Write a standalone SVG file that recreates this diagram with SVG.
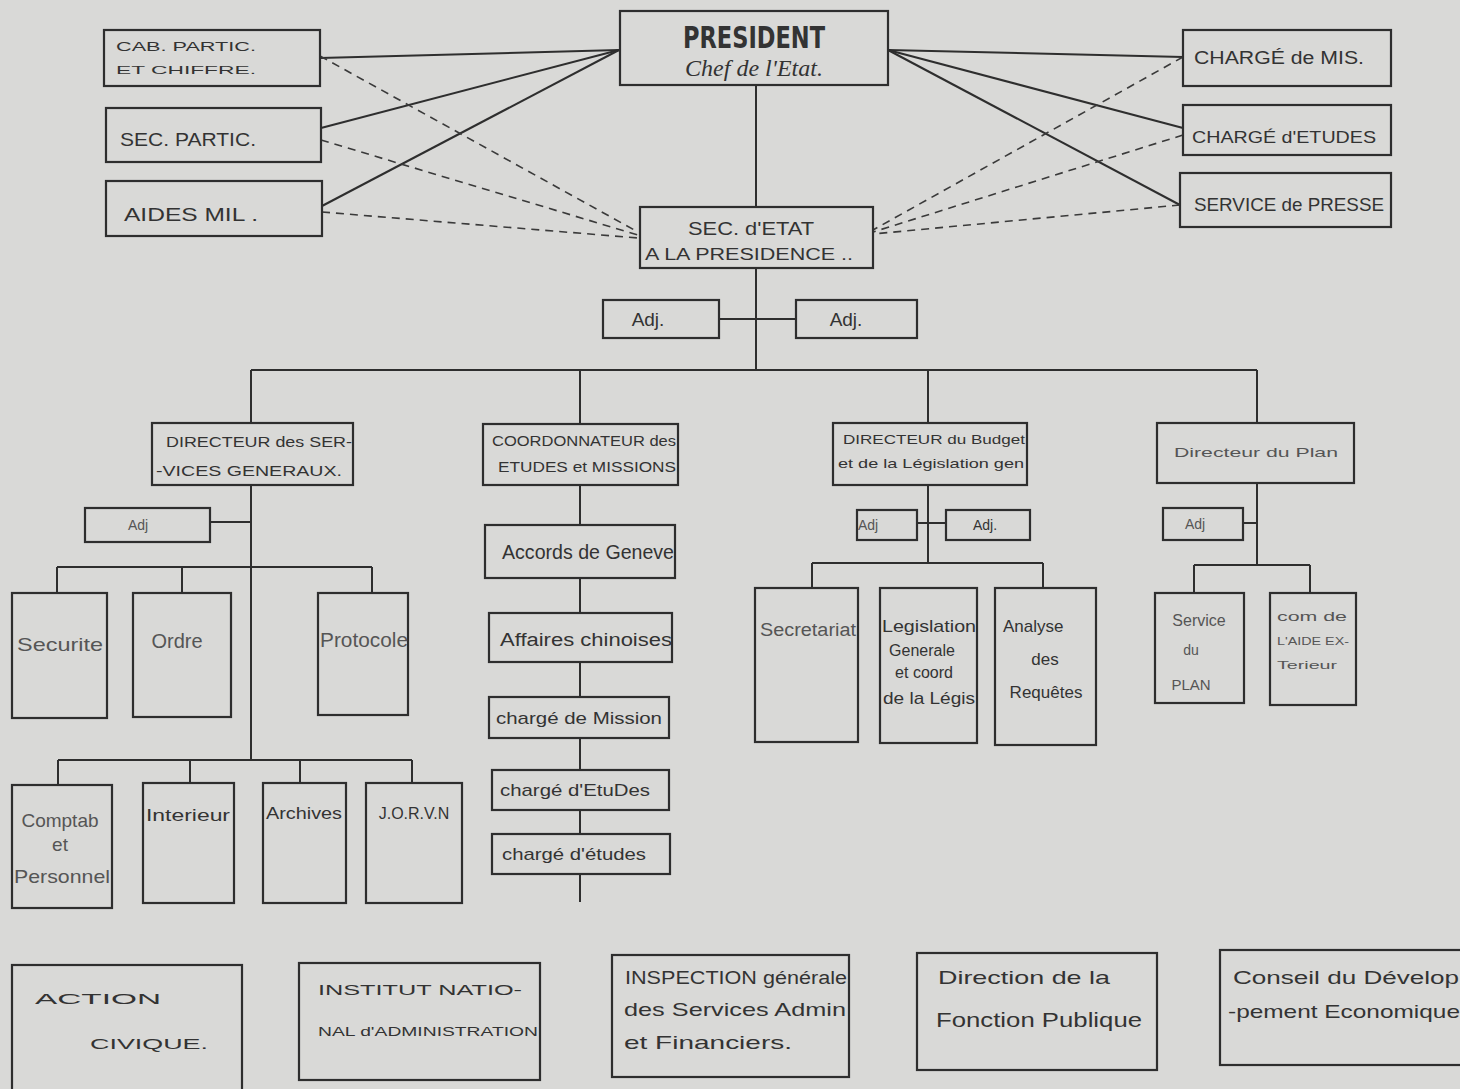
<svg xmlns="http://www.w3.org/2000/svg" width="1460" height="1089" viewBox="0 0 1460 1089">
<style>
.bx{fill:none;stroke:#2e2e2e;stroke-width:2.2}
.ln{fill:none;stroke:#2e2e2e;stroke-width:2}
.ds{fill:none;stroke:#3a3a3a;stroke-width:1.6;stroke-dasharray:8 6}
text{font-family:"Liberation Sans",Arial,sans-serif;fill:#333}
.c{text-anchor:middle}
text.h{font-family:"DejaVu Sans Condensed","DejaVu Sans",sans-serif}
text.sf{font-family:"Liberation Serif","Times New Roman",serif}
.i{font-style:italic}
.lt{fill:#555}
</style>
<rect width="1460" height="1089" fill="#d9d9d7"/>
<g id="connectors">
<line class="ln" x1="756" y1="85" x2="756" y2="207"/>
<line class="ln" x1="756" y1="268" x2="756" y2="370"/>
<line class="ln" x1="719" y1="319" x2="796" y2="319"/>
<polyline class="ln" points="619,50 320,58"/>
<polyline class="ln" points="619,50 321,128"/>
<polyline class="ln" points="619,50 322,206"/>
<polyline class="ln" points="888,50 1183,57"/>
<polyline class="ln" points="888,50 1183,128"/>
<polyline class="ln" points="888,50 1180,205"/>
<polyline class="ds" points="320,56 638,232"/>
<polyline class="ds" points="321,140 638,235"/>
<polyline class="ds" points="322,212 638,238"/>
<polyline class="ds" points="1183,57 873,230"/>
<polyline class="ds" points="1183,135 873,232"/>
<polyline class="ds" points="1180,205 873,234"/>
<line class="ln" x1="251" y1="370" x2="1257" y2="370"/>
<line class="ln" x1="251" y1="370" x2="251" y2="423"/>
<line class="ln" x1="580" y1="370" x2="580" y2="424"/>
<line class="ln" x1="928" y1="370" x2="928" y2="423"/>
<line class="ln" x1="1257" y1="370" x2="1257" y2="423"/>
<line class="ln" x1="251" y1="485" x2="251" y2="760"/>
<line class="ln" x1="210" y1="522" x2="251" y2="522"/>
<line class="ln" x1="57" y1="567" x2="372" y2="567"/>
<line class="ln" x1="57" y1="567" x2="57" y2="593"/>
<line class="ln" x1="182" y1="567" x2="182" y2="593"/>
<line class="ln" x1="372" y1="567" x2="372" y2="593"/>
<line class="ln" x1="58" y1="760" x2="412" y2="760"/>
<line class="ln" x1="58" y1="760" x2="58" y2="785"/>
<line class="ln" x1="190" y1="760" x2="190" y2="783"/>
<line class="ln" x1="300" y1="760" x2="300" y2="783"/>
<line class="ln" x1="412" y1="760" x2="412" y2="783"/>
<line class="ln" x1="580" y1="485" x2="580" y2="525"/>
<line class="ln" x1="580" y1="578" x2="580" y2="613"/>
<line class="ln" x1="580" y1="662" x2="580" y2="697"/>
<line class="ln" x1="580" y1="738" x2="580" y2="770"/>
<line class="ln" x1="580" y1="810" x2="580" y2="834"/>
<line class="ln" x1="580" y1="874" x2="580" y2="902"/>
<line class="ln" x1="928" y1="485" x2="928" y2="563"/>
<line class="ln" x1="917" y1="523" x2="946" y2="523"/>
<line class="ln" x1="812" y1="563" x2="1043" y2="563"/>
<line class="ln" x1="812" y1="563" x2="812" y2="588"/>
<line class="ln" x1="1043" y1="563" x2="1043" y2="588"/>
<line class="ln" x1="1257" y1="483" x2="1257" y2="565"/>
<line class="ln" x1="1243" y1="523" x2="1257" y2="523"/>
<line class="ln" x1="1194" y1="565" x2="1310" y2="565"/>
<line class="ln" x1="1194" y1="565" x2="1194" y2="593"/>
<line class="ln" x1="1310" y1="565" x2="1310" y2="593"/>
</g>
<g id="president"><rect class="bx" x="620" y="11" width="268" height="74"/>
<text class="c h" x="754" y="48" font-size="30" font-weight="bold" textLength="142" lengthAdjust="spacingAndGlyphs">PRESIDENT</text>
<text class="c i sf" x="754" y="76" font-size="24">Chef de l'Etat.</text></g>
<g id="cab"><rect class="bx" x="104" y="30" width="216" height="56"/>
<text x="116" y="51" font-size="13" textLength="140" lengthAdjust="spacingAndGlyphs">CAB. PARTIC.</text>
<text x="116" y="74" font-size="11" textLength="140" lengthAdjust="spacingAndGlyphs">ET CHIFFRE.</text></g>
<g id="secpartic"><rect class="bx" x="106" y="108" width="215" height="54"/>
<text x="120" y="146" font-size="19" textLength="136" lengthAdjust="spacingAndGlyphs">SEC. PARTIC.</text></g>
<g id="aidesmil"><rect class="bx" x="106" y="181" width="216" height="55"/>
<text x="124" y="221" font-size="18" textLength="134" lengthAdjust="spacingAndGlyphs">AIDES MIL .</text></g>
<g id="chargemis"><rect class="bx" x="1183" y="30" width="208" height="56"/>
<text x="1194" y="64" font-size="18" textLength="170" lengthAdjust="spacingAndGlyphs">CHARGÉ de MIS.</text></g>
<g id="chargeetudes"><rect class="bx" x="1183" y="105" width="208" height="50"/>
<text x="1192" y="143" font-size="17" textLength="184" lengthAdjust="spacingAndGlyphs">CHARGÉ d'ETUDES</text></g>
<g id="presse"><rect class="bx" x="1180" y="173" width="211" height="54"/>
<text x="1194" y="211" font-size="19" textLength="190" lengthAdjust="spacingAndGlyphs">SERVICE de PRESSE</text></g>
<g id="secetat"><rect class="bx" x="640" y="207" width="233" height="61"/>
<text class="c" x="751" y="235" font-size="19" textLength="126" lengthAdjust="spacingAndGlyphs">SEC. d'ETAT</text>
<text x="645" y="260" font-size="16" textLength="208" lengthAdjust="spacingAndGlyphs">A LA PRESIDENCE ..</text></g>
<g id="adj1"><rect class="bx" x="603" y="300" width="116" height="38"/>
<text class="c" x="648" y="326" font-size="19">Adj.</text></g>
<g id="adj2"><rect class="bx" x="796" y="300" width="121" height="38"/>
<text class="c" x="846" y="326" font-size="19">Adj.</text></g>
<g id="dirsg"><rect class="bx" x="152" y="423" width="201" height="62"/>
<text x="166" y="447" font-size="15" textLength="186" lengthAdjust="spacingAndGlyphs">DIRECTEUR des SER-</text>
<text x="156" y="476" font-size="15" textLength="186" lengthAdjust="spacingAndGlyphs">-VICES GENERAUX.</text></g>
<g id="adjsg"><rect class="bx" x="85" y="508" width="125" height="34"/>
<text class="c lt" x="138" y="530" font-size="14">Adj</text></g>
<g id="securite"><rect class="bx" x="12" y="593" width="95" height="125"/>
<text class="c lt" x="60" y="651" font-size="19" textLength="86" lengthAdjust="spacingAndGlyphs">Securite</text></g>
<g id="ordre"><rect class="bx" x="133" y="593" width="98" height="124"/>
<text class="c lt" x="177" y="648" font-size="20">Ordre</text></g>
<g id="protocole"><rect class="bx" x="318" y="593" width="90" height="122"/>
<text class="c lt" x="364" y="647" font-size="20" textLength="88" lengthAdjust="spacingAndGlyphs">Protocole</text></g>
<g id="comptab"><rect class="bx" x="12" y="785" width="100" height="123"/>
<text class="c lt" x="60" y="827" font-size="19">Comptab</text>
<text class="c lt" x="60" y="851" font-size="19">et</text>
<text class="c lt" x="62" y="883" font-size="19" textLength="96" lengthAdjust="spacingAndGlyphs">Personnel</text></g>
<g id="interieur"><rect class="bx" x="143" y="783" width="91" height="120"/>
<text class="c" x="188" y="821" font-size="17" textLength="84" lengthAdjust="spacingAndGlyphs">Interieur</text></g>
<g id="archives"><rect class="bx" x="263" y="783" width="83" height="120"/>
<text class="c" x="304" y="819" font-size="17" textLength="76" lengthAdjust="spacingAndGlyphs">Archives</text></g>
<g id="jorvn"><rect class="bx" x="366" y="783" width="96" height="120"/>
<text class="c" x="414" y="819" font-size="16">J.O.R.V.N</text></g>
<g id="coord"><rect class="bx" x="483" y="424" width="195" height="61"/>
<text x="492" y="446" font-size="14" textLength="184" lengthAdjust="spacingAndGlyphs">COORDONNATEUR des</text>
<text x="498" y="472" font-size="14" textLength="178" lengthAdjust="spacingAndGlyphs">ETUDES et MISSIONS</text></g>
<g id="accords"><rect class="bx" x="485" y="525" width="190" height="53"/>
<text x="502" y="559" font-size="20" textLength="172" lengthAdjust="spacingAndGlyphs">Accords de Geneve</text></g>
<g id="affaires"><rect class="bx" x="489" y="613" width="183" height="49"/>
<text x="500" y="646" font-size="18" textLength="172" lengthAdjust="spacingAndGlyphs">Affaires chinoises</text></g>
<g id="chmission"><rect class="bx" x="489" y="697" width="180" height="41"/>
<text x="496" y="724" font-size="17" textLength="166" lengthAdjust="spacingAndGlyphs">chargé de Mission</text></g>
<g id="chetudes1"><rect class="bx" x="492" y="770" width="177" height="40"/>
<text x="500" y="796" font-size="17" textLength="150" lengthAdjust="spacingAndGlyphs">chargé d'EtuDes</text></g>
<g id="chetudes2"><rect class="bx" x="492" y="834" width="178" height="40"/>
<text x="502" y="860" font-size="17" textLength="144" lengthAdjust="spacingAndGlyphs">chargé d'études</text></g>
<g id="dirbudget"><rect class="bx" x="833" y="423" width="194" height="62"/>
<text x="843" y="444" font-size="13" textLength="182" lengthAdjust="spacingAndGlyphs">DIRECTEUR du Budget</text>
<text x="838" y="468" font-size="13" textLength="186" lengthAdjust="spacingAndGlyphs">et de la Législation gen</text></g>
<g id="adjb1"><rect class="bx" x="857" y="510" width="60" height="30"/>
<text class="c lt" x="868" y="530" font-size="14">Adj</text></g>
<g id="adjb2"><rect class="bx" x="946" y="510" width="84" height="30"/>
<text class="c" x="985" y="530" font-size="14">Adj.</text></g>
<g id="secretariat"><rect class="bx" x="755" y="588" width="103" height="154"/>
<text class="c lt" x="808" y="636" font-size="18" textLength="96" lengthAdjust="spacingAndGlyphs">Secretariat</text></g>
<g id="legislation"><rect class="bx" x="880" y="588" width="97" height="155"/>
<text class="c" x="929" y="632" font-size="17" textLength="94" lengthAdjust="spacingAndGlyphs">Legislation</text>
<text class="c" x="922" y="656" font-size="16">Generale</text>
<text class="c" x="924" y="678" font-size="16">et coord</text>
<text class="c" x="929" y="704" font-size="17" textLength="92" lengthAdjust="spacingAndGlyphs">de la Légis</text></g>
<g id="analyse"><rect class="bx" x="995" y="588" width="101" height="157"/>
<text x="1003" y="632" font-size="17">Analyse</text>
<text class="c" x="1045" y="665" font-size="17">des</text>
<text class="c" x="1046" y="698" font-size="17">Requêtes</text></g>
<g id="dirplan"><rect class="bx" x="1157" y="423" width="197" height="60"/>
<text class="c lt" x="1256" y="457" font-size="13" textLength="164" lengthAdjust="spacingAndGlyphs">Directeur du Plan</text></g>
<g id="adjp"><rect class="bx" x="1163" y="508" width="80" height="32"/>
<text class="c lt" x="1195" y="529" font-size="14">Adj</text></g>
<g id="serviceplan"><rect class="bx" x="1155" y="593" width="89" height="110"/>
<text class="c lt" x="1199" y="626" font-size="16">Service</text>
<text class="c lt" x="1191" y="655" font-size="14">du</text>
<text class="c lt" x="1191" y="690" font-size="15">PLAN</text></g>
<g id="aide"><rect class="bx" x="1270" y="593" width="86" height="112"/>
<text class="c lt" x="1312" y="621" font-size="13" textLength="70" lengthAdjust="spacingAndGlyphs">com de</text>
<text class="c lt" x="1313" y="645" font-size="11" textLength="72" lengthAdjust="spacingAndGlyphs">L'AIDE EX-</text>
<text class="c lt" x="1307" y="669" font-size="11" textLength="60" lengthAdjust="spacingAndGlyphs">Terieur</text></g>
<g id="action"><rect class="bx" x="12" y="965" width="230" height="130"/>
<text x="35" y="1004" font-size="15" textLength="126" lengthAdjust="spacingAndGlyphs">ACTION</text>
<text x="90" y="1049" font-size="14" textLength="118" lengthAdjust="spacingAndGlyphs">CIVIQUE.</text></g>
<g id="institut"><rect class="bx" x="299" y="963" width="241" height="117"/>
<text x="318" y="995" font-size="14" textLength="204" lengthAdjust="spacingAndGlyphs">INSTITUT NATIO-</text>
<text x="318" y="1036" font-size="13" textLength="220" lengthAdjust="spacingAndGlyphs">NAL d'ADMINISTRATION</text></g>
<g id="inspection"><rect class="bx" x="612" y="955" width="237" height="122"/>
<text x="625" y="984" font-size="18" textLength="222" lengthAdjust="spacingAndGlyphs">INSPECTION générale</text>
<text x="624" y="1016" font-size="19" textLength="222" lengthAdjust="spacingAndGlyphs">des Services Admin</text>
<text x="624" y="1049" font-size="19" textLength="168" lengthAdjust="spacingAndGlyphs">et Financiers.</text></g>
<g id="fonction"><rect class="bx" x="917" y="953" width="240" height="117"/>
<text x="938" y="984" font-size="19" textLength="172" lengthAdjust="spacingAndGlyphs">Direction de la</text>
<text x="936" y="1027" font-size="20" textLength="206" lengthAdjust="spacingAndGlyphs">Fonction Publique</text></g>
<g id="conseil"><rect class="bx" x="1220" y="950" width="250" height="115"/>
<text x="1233" y="984" font-size="18" textLength="226" lengthAdjust="spacingAndGlyphs">Conseil du Dévelop</text>
<text x="1228" y="1018" font-size="19" textLength="232" lengthAdjust="spacingAndGlyphs">-pement Economique</text></g>
</svg>
